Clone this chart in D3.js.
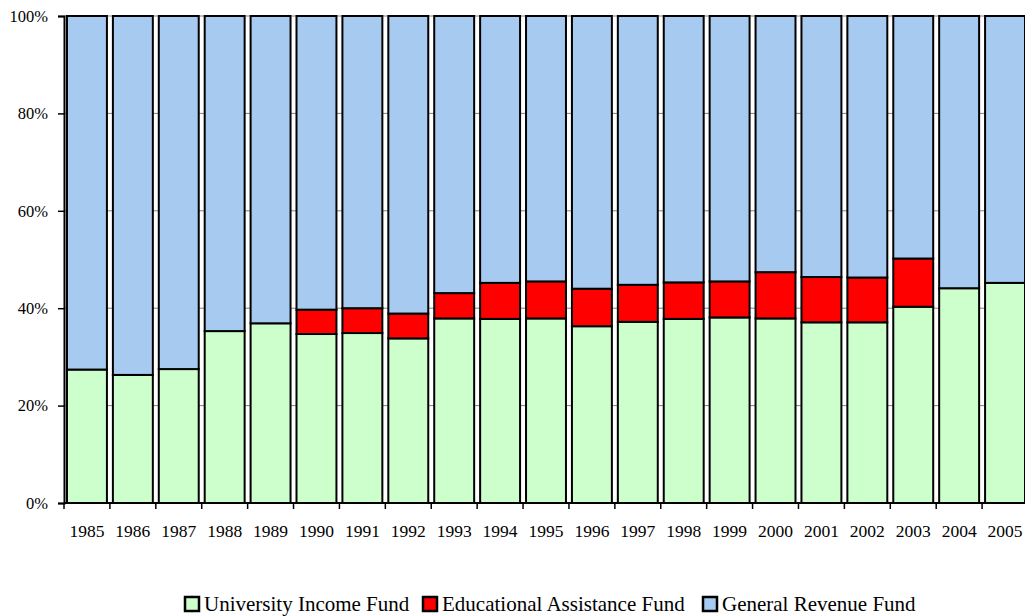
<!DOCTYPE html>
<html><head><meta charset="utf-8">
<script src="https://cdn.jsdelivr.net/npm/d3@7"></script>
<style>body{margin:0;background:#fff}svg{display:block}</style>
</head><body><svg id="c" width="1025" height="616" style="font-family:'Liberation Serif','Times New Roman',Times,serif"></svg>
<script>
const years = ["1985","1986","1987","1988","1989","1990","1991","1992","1993","1994","1995","1996","1997","1998","1999","2000","2001","2002","2003","2004","2005"];
const universityIncome = [27.4,26.3,27.5,35.3,36.9,34.7,34.9,33.8,37.9,37.8,37.9,36.3,37.2,37.8,38.1,37.9,37.1,37.1,40.3,44.1,45.2];
const educationalAssistance = [0,0,0,0,0,5.0,5.1,5.1,5.2,7.4,7.6,7.7,7.6,7.5,7.4,9.5,9.3,9.2,9.9,0,0];
const generalRevenue = years.map((y,i)=>+(100-universityIncome[i]-educationalAssistance[i]).toFixed(1));
const seriesNames = ["University Income Fund","Educational Assistance Fund","General Revenue Fund"];
const colors = ["#ccffcc","#ff0000","#a6caf0"];
const yTicks = [0,20,40,60,80,100];
const FONT = "'Liberation Serif','Times New Roman',Times,serif";

const svg = d3.select("#c");
const L=64,R=1028,T=16,B=503;
const x = d3.scaleBand().domain(years).range([L,R]).paddingInner(0.13).paddingOuter(0.065);
const y = d3.scaleLinear().domain([0,100]).range([B,T]);

const rows = years.map((yr,i)=>({year:yr,u:universityIncome[i],e:educationalAssistance[i],g:generalRevenue[i]}));
const series = d3.stack().keys(["u","e","g"])(rows);

svg.append("g").selectAll("line").data(yTicks.slice(1)).join("line")
  .attr("x1",L).attr("x2",R).attr("y1",d=>y(d)).attr("y2",d=>y(d))
  .attr("stroke","#808080").attr("stroke-width",1);

svg.append("g").selectAll("g").data(series).join("g")
  .attr("fill",(d,i)=>colors[i])
  .selectAll("rect").data(d=>d.filter(p=>p[1]-p[0]>0)).join("rect")
  .attr("x",d=>x(d.data.year)).attr("width",x.bandwidth())
  .attr("y",d=>y(d[1])).attr("height",d=>y(d[0])-y(d[1]))
  .attr("stroke","#000").attr("stroke-width",2);

const ya = svg.append("g").attr("transform",`translate(${L},0)`)
  .call(d3.axisLeft(y).tickValues(yTicks).tickFormat(d=>d+"%").tickSize(6).tickPadding(10));
ya.attr("font-family",FONT);
ya.select(".domain").attr("stroke","#000").attr("stroke-width",2);
ya.selectAll(".tick line").attr("stroke","#000").attr("stroke-width",1.5);
ya.selectAll("text").attr("font-size",16.5).attr("fill","#000").attr("font-family",FONT);

svg.append("line").attr("x1",L).attr("x2",R).attr("y1",B).attr("y2",B).attr("stroke","#000").attr("stroke-width",2);
const step = x.step();
svg.append("g").selectAll("line").data(d3.range(years.length+1)).join("line")
  .attr("x1",d=>L+d*step).attr("x2",d=>L+d*step).attr("y1",B).attr("y2",B+6)
  .attr("stroke","#000").attr("stroke-width",1.5);
svg.append("g").selectAll("text").data(years).join("text")
  .attr("x",d=>x(d)+x.bandwidth()/2).attr("y",537).attr("text-anchor","middle")
  .attr("font-family",FONT).attr("font-size",17.5).attr("fill","#000").text(d=>d);

const lg = svg.append("g");
const items = [{n:seriesNames[0],c:colors[0],x:185},{n:seriesNames[1],c:colors[1],x:423},{n:seriesNames[2],c:colors[2],x:703}];
items.forEach(it=>{
  lg.append("rect").attr("x",it.x).attr("y",597).attr("width",14).attr("height",14)
    .attr("fill",it.c).attr("stroke","#000").attr("stroke-width",2.5);
  lg.append("text").attr("x",it.x+19).attr("y",611).attr("font-family",FONT).attr("font-size",21).attr("fill","#000").text(it.n);
});
</script></body></html>
